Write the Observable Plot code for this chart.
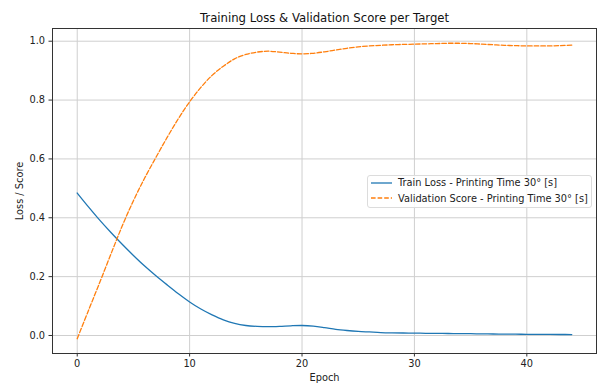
<!DOCTYPE html>
<html>
<head>
<meta charset="utf-8">
<script src="https://cdn.jsdelivr.net/npm/d3@7"></script>
<script src="https://cdn.jsdelivr.net/npm/@observablehq/plot@0.6"></script>
<style>
  html, body { margin: 0; padding: 0; background: #fff; }
  #wrap { position: relative; width: 599px; height: 383px; font-family: "DejaVu Sans", sans-serif; }
  #legend { position: absolute; left: 367px; top: 175px; width: 225px; height: 33px; box-sizing: border-box;
    border: 1px solid #dcdcdc; border-radius: 3px; background: rgba(255,255,255,0.85); font-size: 9.8px; color: #222; }
  .row { position: absolute; left: 3px; height: 12px; display: flex; align-items: center; white-space: nowrap; }
  .row svg { margin-right: 6px; }
</style>
</head>
<body>
<div id="wrap"></div>
<script>
const title = "Training Loss & Validation Score per Target";
const xLabel = "Epoch";
const yLabel = "Loss / Score";
const seriesNames = ["Train Loss - Printing Time 30° [s]", "Validation Score - Printing Time 30° [s]"];
const seriesColors = ["#1f77b4", "#ff7f0e"];
const xTicks = [0, 10, 20, 30, 40];
const yTicks = [0, 0.2, 0.4, 0.6, 0.8, 1.0];

const epochs = [0,1,2,3,4,5,6,7,8,9,10,11,12,13,14,15,16,17,18,19,20,21,22,23,24,25,26,27,28,29,30,31,32,33,34,35,36,37,38,39,40,41,42,43,44];
const trainLoss = [0.484,0.437,0.392,0.350,0.310,0.272,0.236,0.203,0.172,0.142,0.114,0.090,0.070,0.053,0.041,0.034,0.031,0.030,0.031,0.033,0.034,0.032,0.027,0.021,0.017,0.014,0.012,0.010,0.009,0.0085,0.008,0.0075,0.007,0.0068,0.0064,0.006,0.0055,0.005,0.0047,0.0044,0.0041,0.0038,0.0036,0.0034,0.0032];
const valScore = [-0.011,0.085,0.180,0.277,0.372,0.458,0.535,0.605,0.673,0.737,0.794,0.843,0.884,0.915,0.940,0.955,0.963,0.966,0.963,0.959,0.957,0.959,0.964,0.970,0.976,0.981,0.984,0.986,0.988,0.989,0.990,0.991,0.992,0.993,0.993,0.992,0.990,0.988,0.986,0.985,0.984,0.984,0.984,0.985,0.987];

const train = epochs.map((e, i) => ({epoch: e, value: trainLoss[i]}));
const val = epochs.map((e, i) => ({epoch: e, value: valScore[i]}));

const chart = Plot.plot({
  width: 599,
  height: 383,
  marginLeft: 52,
  marginRight: 3,
  marginTop: 28,
  marginBottom: 30,
  style: {fontFamily: "DejaVu Sans, sans-serif", fontSize: "9.8px", color: "#222", background: "#fff"},
  x: {domain: [-2.2, 46.2]},
  y: {domain: [-0.0612, 1.0432]},
  marks: [
    Plot.gridX(xTicks, {stroke: "#cfcfcf", strokeOpacity: 1, strokeWidth: 1}),
    Plot.gridY(yTicks, {stroke: "#cfcfcf", strokeOpacity: 1, strokeWidth: 1}),
    Plot.axisX(xTicks, {tickSize: 3.5, tickPadding: 3, stroke: "#333", label: xLabel, labelAnchor: "center", labelArrow: "none", labelOffset: 27, fontSize: 9.8}),
    Plot.axisY(yTicks, {tickSize: 3.5, tickPadding: 4, stroke: "#333", tickFormat: d3.format(".1f"), label: yLabel, labelAnchor: "center", labelArrow: "none", labelOffset: 36, fontSize: 9.8}),
    Plot.line(train, {x: "epoch", y: "value", stroke: seriesColors[0], strokeWidth: 1.3, curve: "catmull-rom"}),
    Plot.line(val, {x: "epoch", y: "value", stroke: seriesColors[1], strokeWidth: 1.3, strokeDasharray: "4.6,2", curve: "catmull-rom"}),
    Plot.frame({stroke: "#333", strokeWidth: 1}),
    Plot.text([title], {frameAnchor: "top", dy: -10, fontSize: 11.7, fill: "#111", lineAnchor: "middle"})
  ]
});

const wrap = document.getElementById("wrap");
wrap.appendChild(chart);

const legend = document.createElement("div");
legend.id = "legend";
seriesNames.forEach((name, i) => {
  const row = document.createElement("div");
  row.className = "row";
  row.style.top = (i === 0 ? 0.5 : 16) + "px";
  const dash = i === 1 ? ' stroke-dasharray="4.6,2"' : '';
  row.innerHTML = `<svg width="21" height="4"><line x1="0" y1="2" x2="21" y2="2" stroke="${seriesColors[i]}" stroke-width="1.3"${dash}/></svg><span>${name}</span>`;
  legend.appendChild(row);
});
wrap.appendChild(legend);
</script>
</body>
</html>
